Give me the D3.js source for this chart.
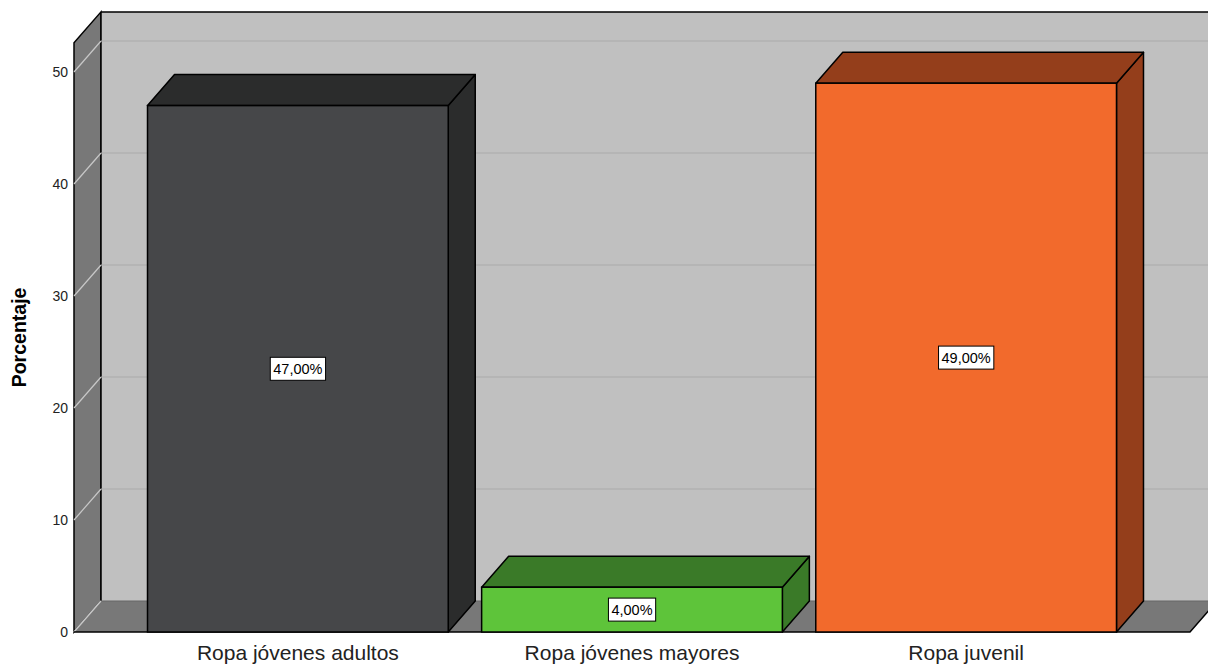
<!DOCTYPE html>
<html>
<head>
<meta charset="utf-8">
<script src="https://cdn.jsdelivr.net/npm/d3@7"></script>
<style>
  body { margin: 0; background: #fff; }
  svg { font-family: "Liberation Sans", Arial, sans-serif; }
</style>
</head>
<body>
<div id="chart"></div>
<script>
// data
const categories = ["Ropa jóvenes adultos", "Ropa jóvenes mayores", "Ropa juvenil"];
const values = [47, 4, 49];
const yTicks = [0, 10, 20, 30, 40, 50];
const frontColors = ["#464749", "#5ec43a", "#f26a2c"];
const darkColors = ["#2b2c2c", "#3a7a28", "#943e1b"];

const width = 1208, height = 665;
const depthX = 27, depthY = -31;   // 3d offset to the back wall

const svg = d3.select("#chart").append("svg")
    .attr("width", width)
    .attr("height", height);

const x = d3.scaleBand()
    .domain(categories)
    .range([74, 1190])
    .paddingInner(0.1)
    .paddingOuter(0.22);

const y = d3.scaleLinear()
    .domain([0, 50])
    .range([632, 72]);

const yTop = y(52.6);
const pts = p => p.map(d => d.join(",")).join(" ");

// left wall
svg.append("polygon")
    .attr("points", pts([[74, y(0)], [74, yTop], [74 + depthX, yTop + depthY], [74 + depthX, y(0) + depthY]]))
    .attr("fill", "#787878")
    .attr("stroke", "#000").attr("stroke-width", 1.5);

// back wall
svg.append("rect")
    .attr("x", 74 + depthX)
    .attr("y", yTop + depthY)
    .attr("width", width + 40)
    .attr("height", y(0) - yTop)
    .attr("fill", "#c0c0c0");
svg.append("line")
    .attr("x1", 74 + depthX).attr("x2", width + 40)
    .attr("y1", yTop + depthY).attr("y2", yTop + depthY)
    .attr("stroke", "#000").attr("stroke-width", 1.5);
svg.append("line")
    .attr("x1", 74 + depthX).attr("x2", 74 + depthX)
    .attr("y1", yTop + depthY).attr("y2", y(0) + depthY)
    .attr("stroke", "#000").attr("stroke-width", 1.5);

// gridlines on back wall + left wall
svg.selectAll(".grid-back")
    .data(yTicks.filter(d => d > 0))
    .enter().append("line")
    .attr("class", "grid-back")
    .attr("x1", 74 + depthX).attr("x2", width + 40)
    .attr("y1", d => y(d) + depthY).attr("y2", d => y(d) + depthY)
    .attr("stroke", "#aaaaaa").attr("stroke-width", 1.2);

svg.selectAll(".grid-side")
    .data(yTicks)
    .enter().append("line")
    .attr("class", "grid-side")
    .attr("x1", 74).attr("x2", 74 + depthX)
    .attr("y1", d => y(d)).attr("y2", d => y(d) + depthY)
    .attr("stroke", "#c8c8c8").attr("stroke-width", 1.2);

// floor
svg.append("polygon")
    .attr("points", pts([[74, y(0)], [1190, y(0)], [1190 + depthX, y(0) + depthY], [74 + depthX, y(0) + depthY]]))
    .attr("fill", "#787878")
    .attr("stroke", "none");
svg.append("line")
    .attr("x1", 74 + depthX).attr("x2", width + 40)
    .attr("y1", y(0) + depthY).attr("y2", y(0) + depthY)
    .attr("stroke", "#666").attr("stroke-width", 1.2);
svg.append("line")
    .attr("x1", 74 + depthX).attr("x2", 74)
    .attr("y1", y(0) + depthY).attr("y2", y(0))
    .attr("stroke", "#c8c8c8").attr("stroke-width", 1.2);
svg.append("polyline")
    .attr("points", pts([[74, y(0)], [1190, y(0)], [1190 + depthX, y(0) + depthY]]))
    .attr("fill", "none")
    .attr("stroke", "#000").attr("stroke-width", 1.5);

// bars
const bars = svg.selectAll(".bar")
    .data(categories.map((c, i) => ({ name: c, value: values[i], i: i })))
    .enter().append("g")
    .attr("class", "bar");

bars.each(function(d) {
    const g = d3.select(this);
    const x0 = x(d.name), x1 = x(d.name) + x.bandwidth();
    const y0 = y(0), y1 = y(d.value);
    // right side
    g.append("polygon")
        .attr("points", pts([[x1, y0], [x1, y1], [x1 + depthX, y1 + depthY], [x1 + depthX, y0 + depthY]]))
        .attr("fill", darkColors[d.i])
        .attr("stroke", "#000").attr("stroke-width", 1.5).attr("stroke-linejoin", "round");
    // top
    g.append("polygon")
        .attr("points", pts([[x0, y1], [x1, y1], [x1 + depthX, y1 + depthY], [x0 + depthX, y1 + depthY]]))
        .attr("fill", darkColors[d.i])
        .attr("stroke", "#000").attr("stroke-width", 1.5).attr("stroke-linejoin", "round");
    // front
    g.append("rect")
        .attr("x", x0).attr("y", y1)
        .attr("width", x.bandwidth())
        .attr("height", y0 - y1)
        .attr("fill", frontColors[d.i])
        .attr("stroke", "#000").attr("stroke-width", 1.5);

    // value label
    const cx = x0 + x.bandwidth() / 2, cy = (y0 + y1) / 2;
    const label = d.value.toFixed(2).replace(".", ",") + "%";
    const t = g.append("text")
        .attr("x", cx).attr("y", cy)
        .attr("text-anchor", "middle")
        .attr("dominant-baseline", "central")
        .attr("font-size", 14.5)
        .attr("fill", "#000")
        .text(label);
    const bb = t.node().getBBox();
    g.insert("rect", "text")
        .attr("x", bb.x - 3).attr("y", cy - 11.5)
        .attr("width", bb.width + 6).attr("height", 23)
        .attr("fill", "#fff")
        .attr("stroke", "#000").attr("stroke-width", 1);
});

// x axis labels
svg.selectAll(".x-label")
    .data(categories)
    .enter().append("text")
    .attr("class", "x-label")
    .attr("x", d => x(d) + x.bandwidth() / 2)
    .attr("y", 660)
    .attr("text-anchor", "middle")
    .attr("font-size", 21)
    .attr("fill", "#222")
    .text(d => d);

// y axis labels
svg.selectAll(".y-label")
    .data(yTicks)
    .enter().append("text")
    .attr("class", "y-label")
    .attr("x", 68)
    .attr("y", d => y(d))
    .attr("dy", "0.35em")
    .attr("text-anchor", "end")
    .attr("font-size", 14)
    .attr("fill", "#222")
    .text(d => d);

// axis title
svg.append("text")
    .attr("transform", "translate(26," + ((y(0) + yTop) / 2 + 0) + ") rotate(-90)")
    .attr("text-anchor", "middle")
    .attr("font-size", 19.5)
    .attr("font-weight", "bold")
    .attr("fill", "#000")
    .text("Porcentaje");
</script>
</body>
</html>
